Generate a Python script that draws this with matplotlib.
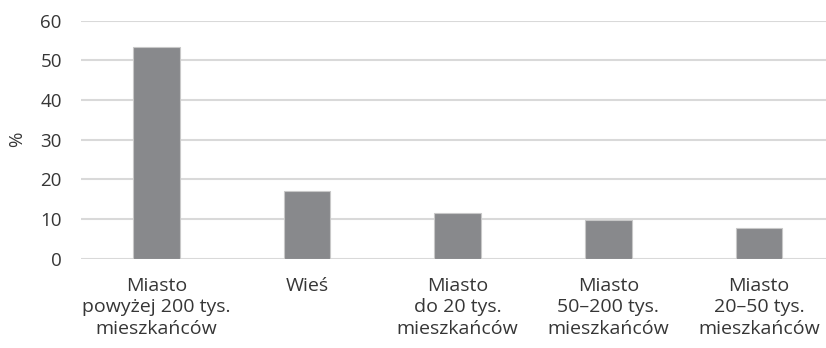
import matplotlib
matplotlib.use("Agg")
import matplotlib.pyplot as plt

# Udział respondentów wg miejsca zamieszkania
kategorie = [
    "Miasto\npowyżej 200 tys.\nmieszkańców",
    "Wieś",
    "Miasto\ndo 20 tys.\nmieszkańców",
    "Miasto\n50–200 tys.\nmieszkańców",
    "Miasto\n20–50 tys.\nmieszkańców",
]
procent = [53.4, 17.1, 11.5, 9.8, 7.9]
yticks = [0, 10, 20, 30, 40, 50, 60]

plt.rcParams['font.family'] = ['Open Sans', 'DejaVu Sans']
kolor_tekstu = '#363636'

fig = plt.figure(figsize=(8.26, 3.48), dpi=100)
ax = fig.add_axes([0.0983, 0.256, 0.9116, 0.685])

x = range(len(kategorie))
ax.bar(x, procent, width=0.31, color='#88898c', edgecolor='#c8c8c8',
       linewidth=0.8, zorder=3)

ax.set_xlim(-0.5, len(kategorie) - 0.5)
ax.set_ylim(0, 60)
ax.set_yticks(yticks)
ax.yaxis.grid(True, color='#d9d9d9', linewidth=1.5, zorder=0)
for s in ax.spines.values():
    s.set_visible(False)

ax.set_xticks(list(x))
ax.set_xticklabels(kategorie, fontsize=14, color=kolor_tekstu, linespacing=1.25,
                   va='top')
ax.tick_params(axis='x', length=0, pad=13)
ax.tick_params(axis='y', length=0, pad=14, labelsize=13.5, labelcolor=kolor_tekstu)
ax.set_ylabel('%', fontsize=13.5, color=kolor_tekstu, labelpad=10)

fig.savefig('out.png', dpi=100)
